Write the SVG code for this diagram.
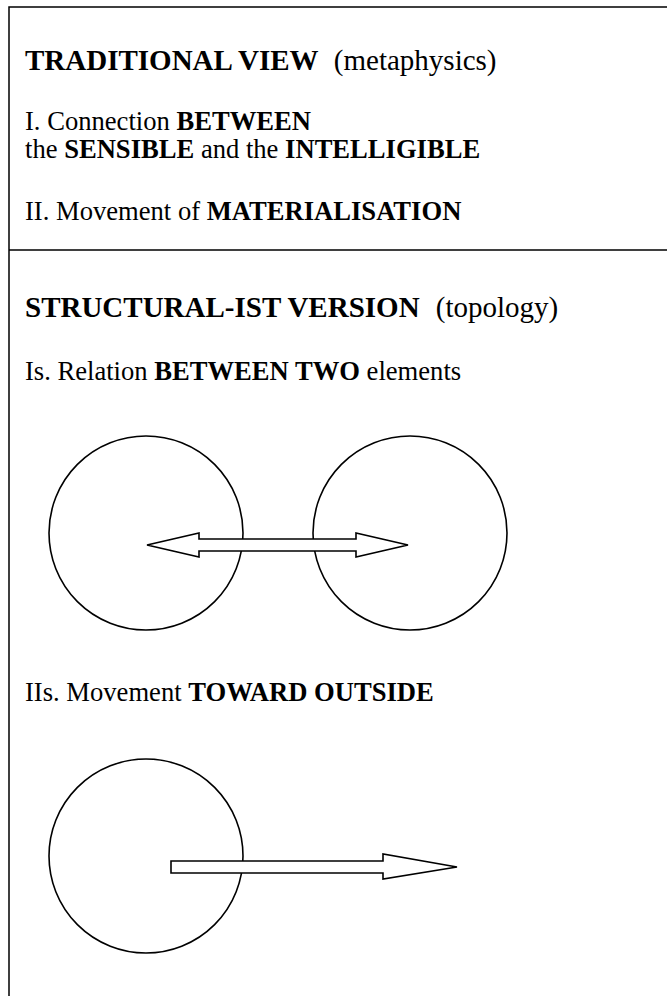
<svg xmlns="http://www.w3.org/2000/svg" width="667" height="996" viewBox="0 0 667 996">
<style>
text{font-family:"Liberation Serif","Times New Roman",serif;font-size:26.6px;fill:#000}
.h{font-size:29px}
.b{font-weight:bold}
.frame{fill:none;stroke:#000;stroke-width:1.5}
.node{fill:none;stroke:#000;stroke-width:1.6}
.arrow{fill:#fff;stroke:#000;stroke-width:1.6;stroke-linejoin:miter}
</style>
<rect width="667" height="996" fill="#fff"/>
<g id="frame">
<path class="frame" d="M9,996 V7 H667 M9,250 H667"/>
</g>
<g id="traditional">
<text class="h" x="25" y="70"><tspan class="b">TRADITIONAL VIEW</tspan> <tspan dx="8">(metaphysics)</tspan></text>
<text x="25" y="130">I. Connection <tspan class="b">BETWEEN</tspan></text>
<text x="25" y="158">the <tspan class="b">SENSIBLE</tspan> and the <tspan class="b">INTELLIGIBLE</tspan></text>
<text x="25" y="220">II. Movement of <tspan class="b">MATERIALISATION</tspan></text>
</g>
<g id="structural">
<text class="h" x="25" y="317"><tspan class="b">STRUCTURAL-IST VERSION</tspan> <tspan dx="9">(topology)</tspan></text>
<text x="25" y="380">Is. Relation <tspan class="b">BETWEEN TWO</tspan> elements</text>
<text x="25" y="701">IIs. Movement <tspan class="b">TOWARD OUTSIDE</tspan></text>
</g>
<g id="element-left"><circle class="node" cx="146" cy="533" r="97"/></g>
<g id="element-right"><circle class="node" cx="410" cy="533" r="97"/></g>
<g id="element-bottom"><circle class="node" cx="146" cy="856" r="97"/></g>
<g id="connectors">
<path class="arrow" d="M147,545 L199,533 V539 H356 V533 L408,545 L356,557 V551 H199 V557 Z"/>
<path class="arrow" d="M171,861 H383 V854 L457,867 L383,879 V873 H171 Z"/>
</g>
</svg>
